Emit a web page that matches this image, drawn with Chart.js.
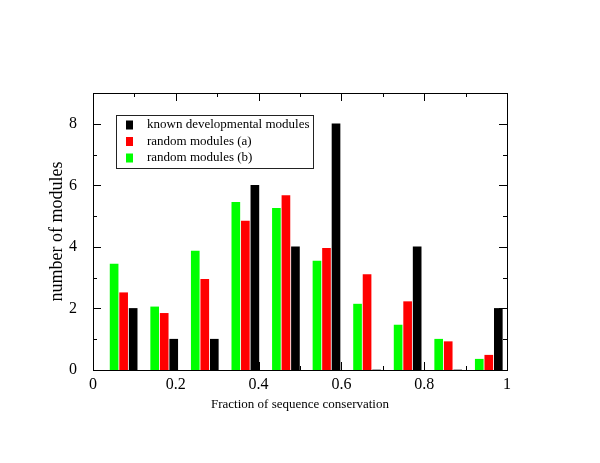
<!DOCTYPE html>
<html>
<head>
<meta charset="utf-8">
<script src="https://cdn.jsdelivr.net/npm/chart.js@4.4.0/dist/chart.umd.min.js"></script>
<style>
    html, body { margin: 0; padding: 0; background: #fff; }
    #wrap { width: 600px; height: 463px; }
</style>
</head>
<body>
<div id="wrap"><canvas id="modules_chart"></canvas></div>
<script>
// x position of each bin (black bar)
var bin_x = [0.097, 0.195, 0.293, 0.391, 0.489, 0.587, 0.685, 0.783, 0.881, 0.979];
var known_dev = [2, 1, 1, 6, 4, 8, 0, 4, 0, 2];
var random_a = [2.51, 1.84, 2.95, 4.84, 5.67, 3.95, 3.10, 2.22, 0.92, 0.48];
var random_b = [3.44, 2.05, 3.86, 5.45, 5.25, 3.54, 2.14, 1.46, 1.00, 0.35];
var series_names = ['known developmental modules', 'random modules (a)', 'random modules (b)'];
var x_ticks = [0, 0.2, 0.4, 0.6, 0.8, 1];
var y_ticks = [0, 2, 4, 6, 8];

var serif = "'Liberation Serif', 'DejaVu Serif', serif";

function points(values, shift) {
    return values.map(function (v, i) { return { x: bin_x[i] + shift, y: v }; });
}

var datasets = [
    { label: series_names[2], data: points(random_b, -0.046), backgroundColor: '#00ff00' },
    { label: series_names[1], data: points(random_a, -0.023), backgroundColor: '#ff0000' },
    { label: series_names[0], data: points(known_dev, 0), backgroundColor: '#000000' }
];

// frame, inward ticks, axis titles and the boxed legend
var frame_plugin = {
    id: 'frame',
    afterDraw: function (chart) {
        var ctx = chart.ctx;
        var a = chart.chartArea;
        var xs = chart.scales.x, ys = chart.scales.y;
        ctx.save();
        ctx.strokeStyle = '#000';
        ctx.lineWidth = 1;
        ctx.strokeRect(a.left + 0.5, a.top + 0.5, a.right - a.left, a.bottom - a.top);

        ctx.beginPath();
        for (var i = 0; i <= 10; i++) {
            var v = i / 10;
            var len = (i % 2 === 0) ? 8 : 4;
            var px = Math.round(xs.getPixelForValue(v)) + 0.5;
            ctx.moveTo(px, a.bottom); ctx.lineTo(px, a.bottom - len);
            ctx.moveTo(px, a.top); ctx.lineTo(px, a.top + len);
        }
        for (var j = 0; j <= 9; j++) {
            var lenY = (j % 2 === 0) ? 8 : 4;
            var py = Math.round(ys.getPixelForValue(j)) + 0.5;
            ctx.moveTo(a.left, py); ctx.lineTo(a.left + lenY, py);
            ctx.moveTo(a.right, py); ctx.lineTo(a.right - lenY, py);
        }
        ctx.stroke();

        // axis titles
        ctx.fillStyle = '#000';
        ctx.textAlign = 'center';
        ctx.textBaseline = 'middle';
        ctx.font = "13px " + serif;
        ctx.fillText('Fraction of sequence conservation', (a.left + a.right) / 2, 405);
        ctx.save();
        ctx.translate(57, (a.top + a.bottom) / 2);
        ctx.rotate(-Math.PI / 2);
        ctx.font = "18px " + serif;
        ctx.fillText('number of modules', 0, 0);
        ctx.restore();

        // legend
        ctx.strokeStyle = '#222';
        ctx.strokeRect(116.5, 115.5, 197, 53);
        var colors = ['#000000', '#ff0000', '#00ff00'];
        var rows = [125, 141.5, 158];
        ctx.font = "13px " + serif;
        ctx.textAlign = 'left';
        for (var k = 0; k < 3; k++) {
            ctx.fillStyle = colors[k];
            ctx.fillRect(126, rows[k] - 4.5, 7, 9);
            ctx.fillStyle = '#000';
            ctx.fillText(series_names[k], 147, rows[k]);
        }
        ctx.restore();
    }
};

new Chart(document.getElementById('modules_chart').getContext('2d'), {
    type: 'bar',
    data: { datasets: datasets },
    plugins: [frame_plugin],
    options: {
        responsive: true,
        maintainAspectRatio: false,
        animation: false,
        devicePixelRatio: 1,
        layout: { padding: { left: 0, top: 93, right: 93, bottom: 0 } },
        datasets: { bar: { barThickness: 8, grouped: false, borderWidth: 0 } },
        plugins: { legend: { display: false }, tooltip: { enabled: false } },
        scales: {
            x: {
                type: 'linear',
                min: 0, max: 1,
                offset: false,
                afterFit: function (s) { s.height = 93; },
                afterBuildTicks: function (s) { s.ticks = x_ticks.map(function (v) { return { value: v }; }); },
                grid: { display: false, offset: false },
                border: { display: false },
                ticks: {
                    color: '#000', padding: -3,
                    font: { family: serif, size: 16 },
                    maxRotation: 0,
                    callback: function (v) { return String(v); }
                }
            },
            y: {
                type: 'linear',
                min: 0, max: 9,
                afterFit: function (s) { s.width = 93; },
                afterBuildTicks: function (s) { s.ticks = y_ticks.map(function (v) { return { value: v }; }); },
                grid: { display: false },
                border: { display: false },
                ticks: {
                    color: '#000', padding: 8,
                    font: { family: serif, size: 16 }
                }
            }
        }
    }
});
</script>
</body>
</html>
